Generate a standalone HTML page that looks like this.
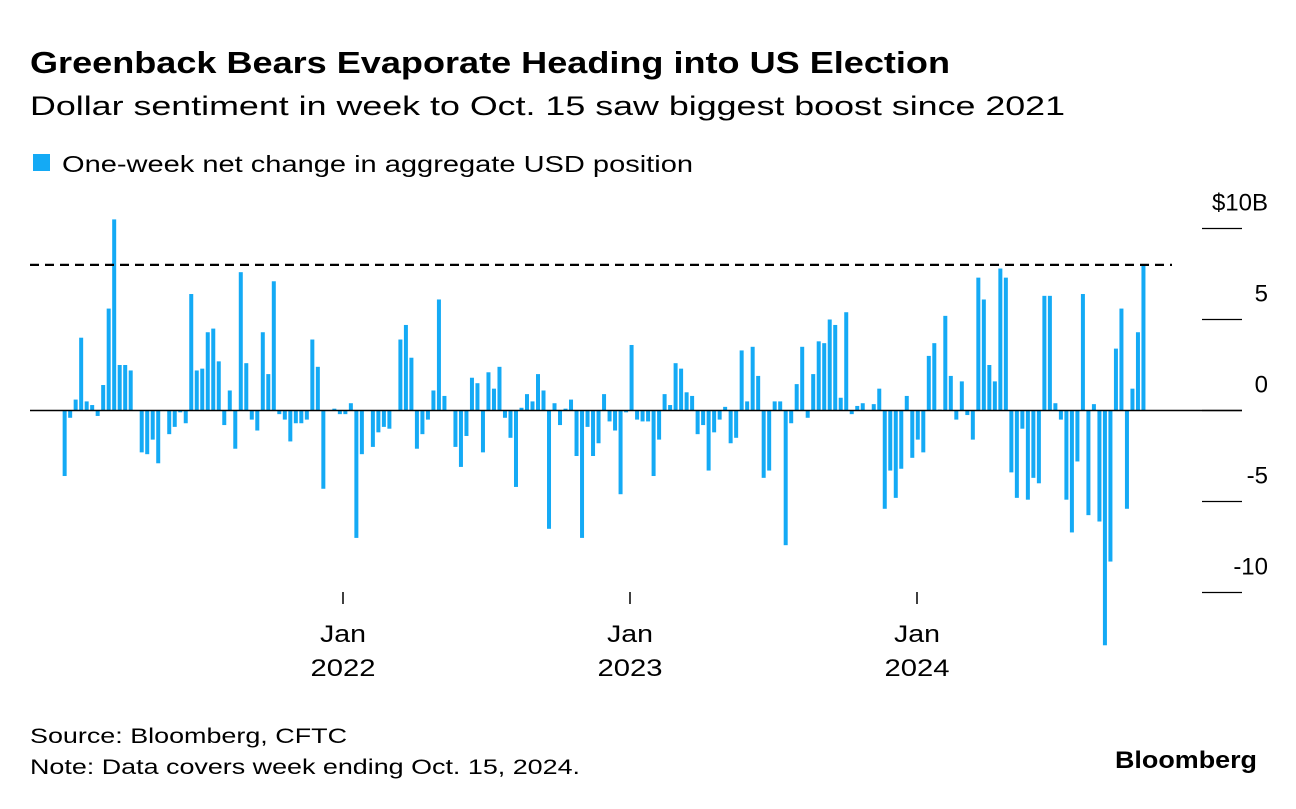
<!DOCTYPE html>
<html><head><meta charset="utf-8"><style>
html,body{margin:0;padding:0;background:#fff;}
body{width:1296px;height:804px;overflow:hidden;font-family:"Liberation Sans",Arial,sans-serif;}
svg text{font-family:"Liberation Sans",Arial,sans-serif;}
</style></head><body>
<svg id="chart" width="1296" height="804" viewBox="0 0 1296 804">
  <text x="30" y="73" font-size="31" font-weight="bold" fill="#000" textLength="920" lengthAdjust="spacingAndGlyphs">Greenback Bears Evaporate Heading into US Election</text>
  <text x="30" y="115" font-size="27" fill="#000" textLength="1035" lengthAdjust="spacingAndGlyphs">Dollar sentiment in week to Oct. 15 saw biggest boost since 2021</text>
  <rect x="33" y="154" width="17" height="17" fill="#14aaf5"/>
  <text x="62" y="172" font-size="23" fill="#000" textLength="631" lengthAdjust="spacingAndGlyphs">One-week net change in aggregate USD position</text>
  <g id="yaxis"></g>
  <g id="bars"></g>
  <g id="xaxis"></g>
  <text x="30" y="743" font-size="21" fill="#000" textLength="317" lengthAdjust="spacingAndGlyphs">Source: Bloomberg, CFTC</text>
  <text x="30" y="774" font-size="21" fill="#000" textLength="550" lengthAdjust="spacingAndGlyphs">Note: Data covers week ending Oct. 15, 2024.</text>
  <text x="1115" y="768" font-size="24" font-weight="bold" fill="#000" textLength="142" lengthAdjust="spacingAndGlyphs">Bloomberg</text>
</svg>
<script>
const values = [
-3.6,-0.4,0.6,4.0,0.5,0.3,-0.3,1.4,5.6,10.5,2.5,2.5,2.2,0,-2.3,-2.4,-1.6,-2.9,0,-1.3,-0.9,-0.1,-0.7,6.4,2.2,2.3,4.3,4.5,2.7,-0.8,1.1,-2.1,7.6,2.6,-0.5,-1.1,4.3,2.0,7.1,-0.2,-0.5,
-1.7,-0.7,-0.7,-0.5,3.9,2.4,-4.3,0,0.1,-0.2,-0.2,0.4,-7.0,-2.4,0,-2.0,-1.2,-0.9,-1.0,0,3.9,4.7,2.9,-2.1,-1.3,-0.5,1.1,6.1,0.8,0,-2.0,-3.1,-1.4,1.8,1.5,-2.3,2.1,1.2,2.4,-0.4,-1.5,
-4.2,0.15,0.9,0.5,2.0,1.1,-6.5,0.4,-0.8,0.1,0.6,-2.5,-7.0,-0.9,-2.5,-1.8,0.9,-0.6,-1.1,-4.6,-0.1,3.6,-0.5,-0.6,-0.6,-3.6,-1.6,0.9,0.3,2.6,2.3,1.0,0.8,-1.3,-0.8,-3.3,-1.2,-0.5,0.2,-1.8,-1.5,
3.3,0.5,3.5,1.9,-3.7,-3.3,0.5,0.5,-7.4,-0.7,1.45,3.5,-0.4,2.0,3.8,3.7,5.0,4.7,0.7,5.4,-0.2,0.25,0.4,0,0.35,1.2,-5.4,-3.3,-4.8,-3.2,0.8,-2.6,-1.6,-2.3,3.0,3.7,0.05,5.2,1.9,-0.5,1.6,
-0.25,-1.6,7.3,6.1,2.5,1.6,7.8,7.3,-3.4,-4.8,-1.0,-4.9,-3.7,-4.0,6.3,6.3,0.4,-0.5,-4.9,-6.7,-2.8,6.4,-5.75,0.35,-6.1,-12.9,-8.3,3.4,5.6,-5.4,1.2,4.3,8.0
];
const lastDate = "2024-10-15";
const yTicks = [10,5,0,-5,-10];
const yTickLabels = ["$10B","5","0","-5","-10"];
const xTickDates = ["2022-01-01","2023-01-01","2024-01-01"];
const xTickMonths = ["Jan","Jan","Jan"];
const xTickYears = ["2022","2023","2024"];

const NS="http://www.w3.org/2000/svg";
function mk(tag,attrs,parent){const e=document.createElementNS(NS,tag);for(const k in attrs)e.setAttribute(k,attrs[k]);parent.appendChild(e);return e;}
const DAY=86400000;
const t0=Date.UTC(2022,0,1), t1=Date.UTC(2024,0,1);
function x(ms){return 343+(ms-t0)*(917-343)/(t1-t0);}
function y(v){return 410.5-v*18.2;}
const lastMs=Date.parse(lastDate+"T00:00:00Z");

const yg=document.getElementById('yaxis');
yTicks.forEach((v,i)=>{
  const l=mk('line',{x1:1202,x2:1242,y1:y(v),y2:y(v),stroke:'#000','stroke-width':1.2},yg);
  
  
  const t=mk('text',{x:1268,y:y(v)-18,'font-size':24,'text-anchor':'end',fill:'#000'},yg);
  t.textContent=yTickLabels[i];
  
  
});

const bg=document.getElementById('bars');
const n=values.length;
values.forEach((v,i)=>{
  const ms=lastMs-(n-1-i)*7*DAY;
  const cx=x(ms);
  const r=mk('rect',{x:cx-2,y:Math.min(y(v),y(0)),width:4,height:Math.max(Math.abs(y(v)-y(0)),0.01),fill:'#14aaf5'},bg);
  
  
});
const zl=mk('line',{x1:30,x2:1242,y1:y(0),y2:y(0),stroke:'#000','stroke-width':1.5},bg);


const dl=mk('line',{x1:30,x2:1172,y1:y(values[n-1]),y2:y(values[n-1]),stroke:'#000','stroke-width':2.2,'stroke-dasharray':'9,6'},bg);



const xg=document.getElementById('xaxis');
xTickDates.forEach((d,i)=>{
  const px=x(Date.parse(d+"T00:00:00Z"));
  const l=mk('line',{x1:px,x2:px,y1:592,y2:604,stroke:'#000','stroke-width':1.5},xg);
  
  
  const m=mk('text',{x:px,y:642,'font-size':24,'text-anchor':'middle',fill:'#000',textLength:46,lengthAdjust:'spacingAndGlyphs'},xg);
  m.textContent=xTickMonths[i];
  
  
  const yy=mk('text',{x:px,y:676,'font-size':24,'text-anchor':'middle',fill:'#000',textLength:65,lengthAdjust:'spacingAndGlyphs'},xg);
  yy.textContent=xTickYears[i];
  
  
});
</script>
</body></html>
